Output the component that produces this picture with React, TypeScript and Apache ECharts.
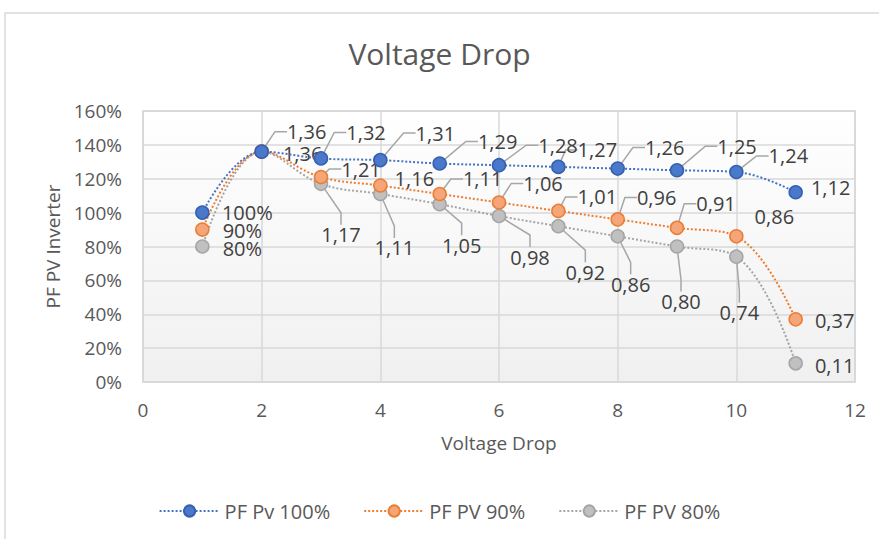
import React, { useEffect, useRef } from "react";
import * as echarts from "echarts";

const xValues = [1, 2, 3, 4, 5, 6, 7, 8, 9, 10, 11];
const seriesNames = ["PF Pv 100%", "PF PV 90%", "PF PV 80%"];
const pf100 = [1.0, 1.36, 1.32, 1.31, 1.29, 1.28, 1.27, 1.26, 1.25, 1.24, 1.12];
const pf90 = [0.9, 1.36, 1.21, 1.16, 1.11, 1.06, 1.01, 0.96, 0.91, 0.86, 0.37];
const pf80 = [0.8, 1.36, 1.17, 1.11, 1.05, 0.98, 0.92, 0.86, 0.8, 0.74, 0.11];
const yTicks = [0, 0.2, 0.4, 0.6, 0.8, 1.0, 1.2, 1.4, 1.6];

// label placement (offset of label centre from its point), null = hidden
const labelOffsets: (number[] | null)[][] = [
  [[45, 0], [45, -20], [45, -26], [55, -27], [58, -22], [59, -20], [39, -17], [47, -21], [60, -24], [52, -16], [35, -5]],
  [[40, 1], [41, 2], [40, -8], [34, -7], [43, -15], [44, -19], [39, -14], [39, -22], [39, -24], [38, -20], [39, 1]],
  [[40, 2], null, [20, 51], [14, 54], [22, 41], [31, 41], [27, 46], [13, 48], [4, 55], [3, 56], [39, 2]],
];
const leaderShown: boolean[][] = [
  [false, true, true, true, true, true, true, true, true, true, false],
  [false, false, true, false, true, true, true, true, true, false, false],
  [false, false, true, true, true, true, true, true, true, true, false],
];

const lineColors = ["#4472C4", "#ED7D31", "#A5A5A5"];
const fillColors = ["#4A78CA", "#F4A57A", "#C0C0C0"];
const borderColors = ["#3560B0", "#ED7D31", "#A5A5A5"];

const FONT = "Open Sans";

export default function App() {
  const ref = useRef<HTMLDivElement>(null);
  useEffect(() => {
    if (!ref.current) return;
    const chart = echarts.init(ref.current, undefined, { renderer: "svg" });
    const values = [pf100, pf90, pf80];
    const series = values.map((vals, si) => ({
      name: seriesNames[si],
      type: "line",
      smooth: 0.4,
      symbol: "circle",
      symbolSize: 13,
      z: 3 - si,
      lineStyle: { color: lineColors[si], width: 2, type: [2, 2] },
      itemStyle: { color: fillColors[si], borderColor: borderColors[si], borderWidth: 1.5 },
      label: {
        show: true,
        position: "inside",
        color: "#404040",
        fontFamily: FONT,
        fontSize: 20,
        formatter: (p: any) => {
          const v = p.value[1];
          return p.dataIndex === 0 ? Math.round(v * 100) + "%" : v.toFixed(2).replace(".", ",");
        },
      },
      labelLine: { show: true, length2: 12, lineStyle: { color: "#A6A6A6", width: 1.5 } },
      labelLayout: (params: any) => {
        const off = labelOffsets[si][params.dataIndex];
        if (!off) return {};
        return { dx: off[0], dy: off[1] };
      },
      data: vals.map((v, i) => ({
        value: [xValues[i], v],
        label: { show: labelOffsets[si][i] !== null },
        labelLine: { show: leaderShown[si][i] },
      })),
    }));

    chart.setOption({
      animation: false,
      backgroundColor: "#ffffff",
      textStyle: { fontFamily: FONT },
      title: {
        text: "Voltage Drop",
        left: "center",
        top: 33,
        textStyle: { color: "#595959", fontSize: 30, fontWeight: "normal", fontFamily: FONT },
      },
      graphic: [
        {
          type: "rect",
          shape: { x: 5, y: 13, width: 900, height: 600 },
          style: { fill: "none", stroke: "#D9D9D9", lineWidth: 1.5 },
          silent: true,
          z: -10,
        },
      ],
      grid: {
        left: 143,
        right: 24,
        top: 111,
        bottom: 157,
        show: true,
        borderColor: "#D0D0D0",
        borderWidth: 1.5,
        backgroundColor: {
          type: "linear",
          x: 0, y: 0, x2: 0, y2: 1,
          colorStops: [
            { offset: 0, color: "#FFFFFF" },
            { offset: 1, color: "#F0F0F0" },
          ],
        },
      },
      xAxis: {
        type: "value",
        min: 0,
        max: 12,
        interval: 2,
        name: "Voltage Drop",
        nameLocation: "middle",
        nameGap: 51,
        nameTextStyle: { color: "#595959", fontSize: 19, fontFamily: FONT },
        axisLine: { show: false },
        axisTick: { show: false },
        axisLabel: { color: "#595959", fontSize: 19, margin: 18, fontFamily: FONT },
        splitLine: { show: true, lineStyle: { color: "#D9D9D9", width: 1.5 } },
      },
      yAxis: {
        type: "value",
        min: yTicks[0],
        max: yTicks[yTicks.length - 1],
        interval: 0.2,
        name: "PF PV Inverter",
        nameLocation: "middle",
        nameGap: 78,
        nameTextStyle: { color: "#595959", fontSize: 19, fontFamily: FONT },
        axisLine: { show: false },
        axisTick: { show: false },
        axisLabel: {
          color: "#595959",
          fontSize: 19,
          margin: 21,
          fontFamily: FONT,
          formatter: (v: number) => Math.round(v * 100) + "%",
        },
        splitLine: { show: true, lineStyle: { color: "#D9D9D9", width: 1.5 } },
      },
      legend: {
        data: seriesNames,
        left: "center",
        top: 496,
        itemWidth: 60,
        itemHeight: 14,
        itemGap: 33,
        textStyle: { color: "#595959", fontSize: 20, fontFamily: FONT },
      },
      series,
    });
    return () => chart.dispose();
  }, []);
  return (
    <div
      ref={ref}
      style={{ position: "fixed", left: 0, top: 0, width: 879, height: 539 }}
    />
  );
}
